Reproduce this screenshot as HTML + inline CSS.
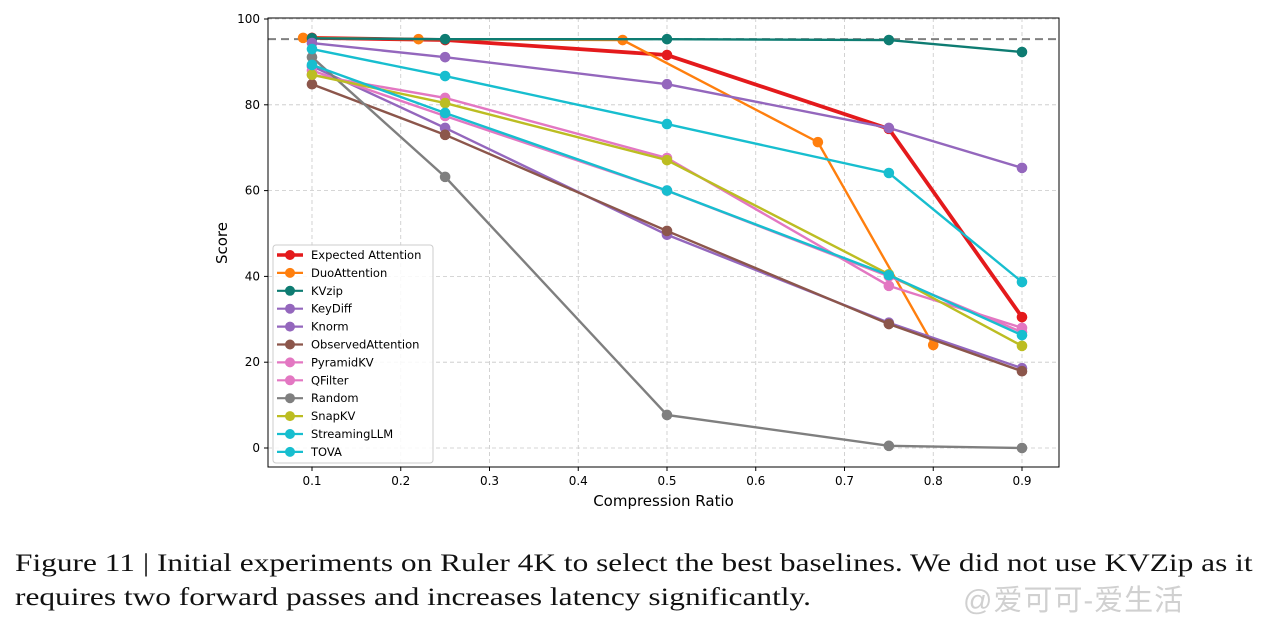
<!DOCTYPE html>
<html><head><meta charset="utf-8"><style>
body{margin:0;background:#fff;width:1274px;height:623px;overflow:hidden;position:relative}
svg{position:absolute;left:0;top:0}
.cap{position:absolute;left:15px;font-family:"Liberation Serif",serif;font-size:25px;color:#111;white-space:nowrap;transform-origin:0 0;transform:scaleX(1.255)}
</style></head><body>
<svg id="chart" width="1274" height="623" font-family="DejaVu Sans, Liberation Sans, sans-serif"></svg>
<div class="cap" style="top:550px">Figure 11 | Initial experiments on Ruler 4K to select the best baselines. We did not use KVZip as it</div>
<div class="cap" style="top:584px">requires two forward passes and increases latency significantly.</div>
<div style="position:absolute;left:963px;top:577px;font-family:'Liberation Sans','Noto Sans CJK SC',sans-serif;font-size:29px;letter-spacing:1px;color:rgba(170,170,170,0.55)">@爱可可-爱生活</div>
<script>
const seriesNames=["Expected Attention","DuoAttention","KVzip","KeyDiff","Knorm","ObservedAttention","PyramidKV","QFilter","Random","SnapKV","StreamingLLM","TOVA"];
const seriesColors=["#e41a1c","#ff7f0e","#0e7c72","#9467bd","#9467bd","#8c564b","#e377c2","#e377c2","#7f7f7f","#bcbd22","#17becf","#17becf"];
const xStd=[0.1,0.25,0.5,0.75,0.9];
const xDuo=[0.09,0.22,0.45,0.67,0.8];
const yExpected=[95.6,95.1,91.6,74.4,30.5];
const yDuo=[95.6,95.3,95.1,71.3,24];
const yKVzip=[95.5,95.3,95.3,95.1,92.3];
const yKeyDiff=[94.4,91.1,84.8,74.6,65.3];
const yKnorm=[89,74.6,49.7,29.2,18.6];
const yObserved=[84.8,73,50.6,28.9,17.9];
const yPyramid=[87,81.6,67.6,37.8,28];
const yQFilter=[88,77.4,60,40,27];
const yRandom=[91.1,63.2,7.7,0.5,0];
const ySnap=[87,80.4,67.1,40.5,23.8];
const yStreaming=[89.3,78.1,60,40.3,26.3];
const yTOVA=[93,86.7,75.5,64.1,38.7];
const seriesY=[yExpected,yDuo,yKVzip,yKeyDiff,yKnorm,yObserved,yPyramid,yQFilter,yRandom,ySnap,yStreaming,yTOVA];
const xTicks=[0.1,0.2,0.3,0.4,0.5,0.6,0.7,0.8,0.9];
const yTicks=[0,20,40,60,80,100];
const refLine=95.3;

const svg=document.getElementById('chart');
const NS='http://www.w3.org/2000/svg';
const L=268,R=1059,T=18,B=467;
const xs=v=>312+(v-0.1)*887.5;
const ys=v=>448-v*4.29;
function mk(tag,at,parent){const e=document.createElementNS(NS,tag);for(const k in at)e.setAttribute(k,at[k]);(parent||svg).appendChild(e);return e;}
xTicks.forEach(t=>{const g=mk('line',{x1:xs(t),x2:xs(t),y1:T,y2:B,stroke:'#c8c8c8','stroke-dasharray':'4,3','stroke-width':0.8});


const tk=mk('line',{x1:xs(t),x2:xs(t),y1:B,y2:B+4,stroke:'#000'});


const tx=mk('text',{x:xs(t),y:B+18,'text-anchor':'middle','font-size':12});tx.textContent=String(t);

});
yTicks.forEach(t=>{const g=mk('line',{x1:L,x2:R,y1:ys(t),y2:ys(t),stroke:'#c8c8c8','stroke-dasharray':'4,3','stroke-width':0.8});


const tk=mk('line',{x1:L-4,x2:L,y1:ys(t),y2:ys(t),stroke:'#000'});


const tx=mk('text',{x:L-8,y:ys(t)+4,'text-anchor':'end','font-size':12});tx.textContent=String(t);

});
const rl=mk('line',{x1:L,x2:R,y1:ys(refLine),y2:ys(refLine),stroke:'#808080','stroke-dasharray':'8,5','stroke-width':2});


seriesNames.forEach((n,i)=>{const g=mk('g',{});


const xv=i===1?xDuo:xStd;const w=i===0?3.8:2.4;
const pts=seriesY[i].map((v,j)=>xs(xv[j])+','+ys(v)).join(' ');
const pl=mk('polyline',{points:pts,fill:'none',stroke:seriesColors[i],'stroke-width':w},g);


seriesY[i].forEach((v,j)=>{const c=mk('circle',{cx:xs(xv[j]),cy:ys(v),r:5.3,fill:seriesColors[i]},g);

});});
const fr=mk('rect',{x:L,y:T,width:R-L,height:B-T,fill:'none',stroke:'#000','stroke-width':1});


const xl=mk('text',{x:(L+R)/2,y:506,'text-anchor':'middle','font-size':15});xl.textContent='Compression Ratio';


const yl=mk('text',{x:227,y:243,'text-anchor':'middle','font-size':15,transform:'rotate(-90 227 243)'});yl.textContent='Score';


const lg=mk('g',{});


mk('rect',{x:273,y:245,width:160,height:218,rx:3,fill:'#fff','fill-opacity':0.85,stroke:'#ccc'},lg);
seriesNames.forEach((n,i)=>{const y=255+i*17.9;
const e=mk('g',{},lg);


mk('line',{x1:277,x2:303,y1:y,y2:y,stroke:seriesColors[i],'stroke-width':i===0?3.5:2.2},e);
mk('circle',{cx:290,cy:y,r:5,fill:seriesColors[i]},e);
const t=mk('text',{x:311,y:y+4,'font-size':11.5},e);t.textContent=n;});
</script>
</body></html>
